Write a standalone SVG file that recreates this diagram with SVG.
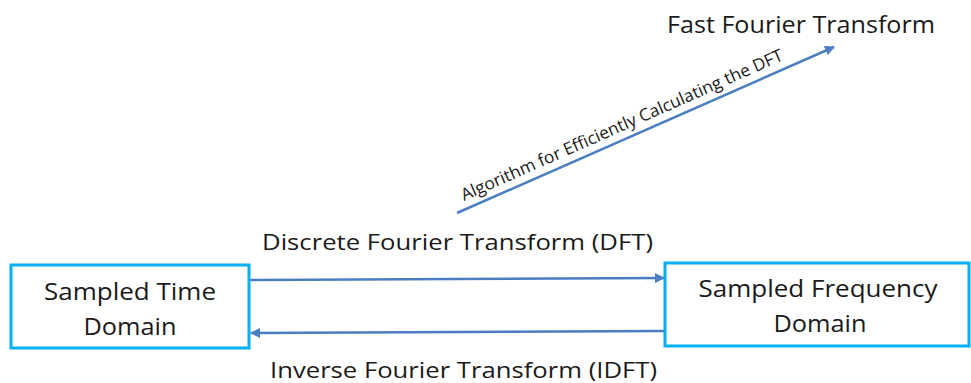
<svg xmlns="http://www.w3.org/2000/svg" width="971" height="383" viewBox="0 0 971 383">
<defs>
<style>
.box{fill:#fff;stroke:#00B0F0;stroke-width:3}
.t{font-family:"Open Sans","Liberation Sans",sans-serif;fill:#1a1a1a}
.lbl{font-size:22px}
.node{font-size:24px;text-anchor:middle}
.conn{stroke:#4A7EC0;stroke-width:2.5;fill:none}
</style>
<marker id="ah" viewBox="0 0 10 10" refX="9" refY="5" markerWidth="4" markerHeight="4" orient="auto" markerUnits="strokeWidth">
<path d="M0,0 L10,5 L0,10 z" fill="#4A7EC0"/>
</marker>
</defs>
<rect width="971" height="383" fill="#fff"/>
<g id="connectors">
<line class="conn" x1="250" y1="280" x2="664" y2="278" marker-end="url(#ah)"/>
<line class="conn" x1="665" y1="331" x2="251" y2="333" marker-end="url(#ah)"/>
<line class="conn" x1="457" y1="213" x2="834" y2="47" marker-end="url(#ah)"/>
</g>
<g id="node-time">
<rect class="box" x="11" y="265" width="238" height="83"/>
<text class="t node" x="130" y="300" textLength="172" lengthAdjust="spacingAndGlyphs">Sampled Time</text>
<text class="t node" x="130" y="335" textLength="93" lengthAdjust="spacingAndGlyphs">Domain</text>
</g>
<g id="node-freq">
<rect class="box" x="665" y="263" width="304" height="83"/>
<text class="t node" x="818" y="297" textLength="239" lengthAdjust="spacingAndGlyphs">Sampled Frequency</text>
<text class="t node" x="820" y="332" textLength="93" lengthAdjust="spacingAndGlyphs">Domain</text>
</g>
<g id="labels">
<text class="t" x="667" y="33" font-size="24" textLength="268" lengthAdjust="spacingAndGlyphs">Fast Fourier Transform</text>
<text class="t lbl" x="262" y="250" textLength="391" lengthAdjust="spacingAndGlyphs">Discrete Fourier Transform (DFT)</text>
<text class="t lbl" x="270" y="378" textLength="387" lengthAdjust="spacingAndGlyphs">Inverse Fourier Transform (IDFT)</text>
<text class="t" font-size="17" transform="translate(464,201) rotate(-23.8)" textLength="350" lengthAdjust="spacingAndGlyphs">Algorithm for Efficiently Calculating the DFT</text>
</g>
</svg>
